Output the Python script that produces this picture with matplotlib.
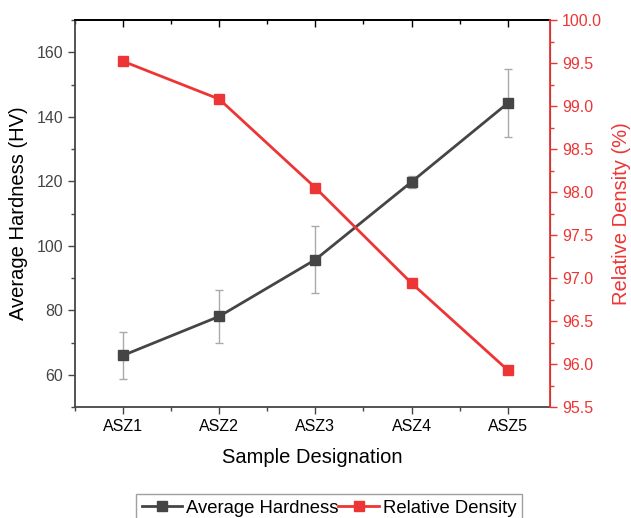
import matplotlib
matplotlib.use("Agg")
import matplotlib.pyplot as plt
from matplotlib.ticker import MultipleLocator, FormatStrFormatter
from matplotlib.lines import Line2D

samples = ["ASZ1", "ASZ2", "ASZ3", "ASZ4", "ASZ5"]
hardness = [66.0, 78.1, 95.7, 119.8, 144.2]
hardness_err = [7.3, 8.3, 10.4, 1.8, 10.5]
density = [99.52, 99.08, 98.05, 96.94, 95.93]

plt.rcParams['font.family'] = ['Liberation Sans', 'DejaVu Sans']

RED = '#EE3535'
DARK = '#454545'

fig = plt.figure(figsize=(6.31, 5.18), dpi=100)
ax = fig.add_axes([75/631, 1-407/518, (550-75)/631, (407-20)/518])
x = list(range(1, len(samples)+1))

ax.errorbar(x, hardness, yerr=hardness_err, color=DARK, lw=2, marker='s',
            markersize=7, ecolor='#AAAAAA', elinewidth=1, capsize=3, capthick=1,
            zorder=3)
ax.set_ylim(50, 170)
ax.set_xlim(0.5, 5.44)
ax.set_xticks(x)
ax.set_xticklabels(samples)
ax.xaxis.set_minor_locator(MultipleLocator(0.5))
ax.set_yticks([60, 80, 100, 120, 140, 160])
ax.yaxis.set_minor_locator(MultipleLocator(10))
ax.tick_params(axis='y', which='major', direction='out', length=5, width=1, colors=DARK, labelsize=11.5)
ax.tick_params(axis='y', which='minor', direction='out', length=3, width=1, colors=DARK)
ax.tick_params(axis='x', which='major', direction='out', length=5, width=1, colors=DARK, labelsize=11.5)
ax.tick_params(axis='x', which='minor', direction='out', length=3, width=1, colors=DARK)
for lbl in ax.get_xticklabels():
    lbl.set_color('black')
ax.set_xlabel('Sample Designation', fontsize=14.5, labelpad=10)
ax.set_ylabel('Average Hardness (HV)', fontsize=14.5, labelpad=6)
for s in ['left', 'bottom']:
    ax.spines[s].set_color(DARK)
    ax.spines[s].set_linewidth(1.3)
ax.spines['top'].set_color('black')
ax.spines['top'].set_linewidth(1.3)

# top axis ticks pointing inward
top = ax.secondary_xaxis('top')
top.set_xticks(x)
top.xaxis.set_minor_locator(MultipleLocator(0.5))
top.tick_params(axis='x', which='major', direction='in', length=5, width=1, colors='black', labeltop=False)
top.tick_params(axis='x', which='minor', direction='in', length=3, width=1, colors='black')
top.spines['top'].set_color('black')
top.spines['top'].set_linewidth(1.3)

ax2 = ax.twinx()
ax2.plot(x, density, color=RED, lw=2, marker='s', markersize=7, zorder=3)
ax2.set_ylim(95.5, 100.0)
ax2.yaxis.set_major_locator(MultipleLocator(0.5))
ax2.yaxis.set_minor_locator(MultipleLocator(0.25))
ax2.yaxis.set_major_formatter(FormatStrFormatter('%.1f'))
ax2.tick_params(axis='y', which='major', direction='out', length=5, width=1, colors=RED, labelsize=11.5)
ax2.tick_params(axis='y', which='minor', direction='out', length=3, width=1, colors=RED)
ax2.set_ylabel('Relative Density (%)', fontsize=14.5, color=RED, labelpad=7)
ax2.spines['right'].set_color(RED)
ax2.spines['right'].set_linewidth(1.3)
for s in ['left', 'top', 'bottom']:
    ax2.spines[s].set_visible(False)

handles = [Line2D([], [], color=DARK, lw=2, marker='s', markersize=7),
           Line2D([], [], color=RED, lw=2, marker='s', markersize=7)]
labels = ['Average Hardness', 'Relative Density']
leg = fig.legend(handles, labels, loc='upper center', bbox_to_anchor=(329/631, 1-494/518),
                 ncol=2, fontsize=13.3, frameon=True, fancybox=False, edgecolor='#888888',
                 handlelength=2.2, handletextpad=0.2, columnspacing=0.0, borderpad=0.3,
                 borderaxespad=0)
leg.get_frame().set_linewidth(1)

fig.savefig('out.png', dpi=100)
